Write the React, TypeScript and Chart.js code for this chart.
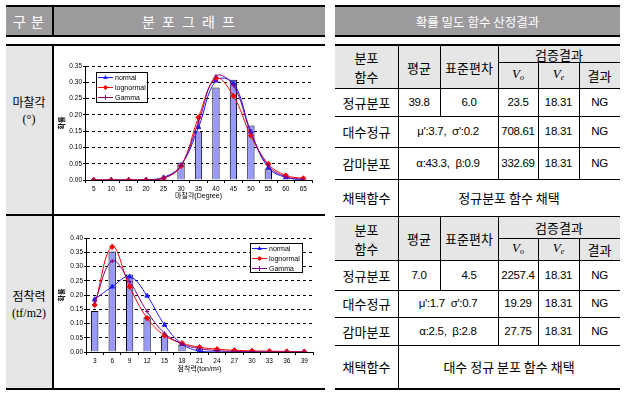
import React, { useEffect, useRef } from "react";
import { Chart, registerables } from "chart.js";
Chart.register(...registerables);

// ---------------- data ----------------
const frictionLabels = ["5", "10", "15", "20", "25", "30", "35", "40", "45", "50", "55", "60", "65"];
const frictionObserved = [0, 0, 0, 0.002, 0.004, 0.054, 0.149, 0.284, 0.308, 0.167, 0.033, 0.004, 0];
const frictionNormal = [0, 0, 0, 0.001, 0.008, 0.045, 0.162, 0.305, 0.297, 0.148, 0.038, 0.008, 0.001];
const frictionLognormal = [0, 0, 0, 0, 0.005, 0.043, 0.192, 0.312, 0.258, 0.136, 0.049, 0.014, 0.005];
const frictionGamma = [0, 0, 0, 0, 0.006, 0.045, 0.178, 0.319, 0.29, 0.145, 0.044, 0.01, 0.002];

const cohesionLabels = ["3", "6", "9", "12", "15", "18", "21", "24", "27", "30", "33", "36", "39"];
const cohesionObserved = [0.144, 0.353, 0.272, 0.122, 0.057, 0.026, 0.012, 0.008, 0.006, 0.004, 0.003, 0.002, 0];
const cohesionNormal = [0.185, 0.229, 0.264, 0.197, 0.095, 0.028, 0.003, 0, 0, 0, 0, 0, 0];
const cohesionLognormal = [0.165, 0.369, 0.229, 0.119, 0.058, 0.031, 0.017, 0.01, 0.006, 0.004, 0.003, 0.002, 0.001];
const cohesionGamma = [0.176, 0.319, 0.247, 0.142, 0.066, 0.028, 0.012, 0.005, 0.002, 0.001, 0, 0, 0];

const seriesNames = ["normal", "lognormal", "Gamma"];

const frictionFit = [
  ["정규분포", "39.8", "6.0", "23.5", "18.31", "NG"],
  ["대수정규", "μ':3.7,  σ':0.2", "", "708.61", "18.31", "NG"],
  ["감마분포", "α:43.3,  β:0.9", "", "332.69", "18.31", "NG"],
];
const frictionAdopted = "정규분포 함수 채택";
const cohesionFit = [
  ["정규분포", "7.0", "4.5", "2257.4", "18.31", "NG"],
  ["대수정규", "μ':1.7  σ':0.7", "", "19.29", "18.31", "NG"],
  ["감마분포", "α:2.5,  β:2.8", "", "27.75", "18.31", "NG"],
];
const cohesionAdopted = "대수 정규 분포 함수 채택";

// ---------------- styles ----------------
const KR = "'Noto Sans CJK KR', sans-serif";
const NUM = "'Liberation Sans', 'Noto Sans CJK KR', sans-serif";
const SERIF = "'Liberation Serif', 'Noto Sans CJK KR', serif";
const CHART_FONT = "'Liberation Sans', 'Noto Sans CJK KR', sans-serif";
const HEAD_GRAY = "#9c9a9c";
const LIGHT = "#e6e6e6";

const COLORS = ["#1a1aff", "#ff0000", "#800080"];
const STYLES = ["triangle", "rectRot", "cross"];

function drawMarker(ctx: CanvasRenderingContext2D, style: string, x: number, y: number, r: number, color: string) {
  ctx.save();
  ctx.fillStyle = color;
  ctx.strokeStyle = color;
  ctx.lineWidth = 1;
  ctx.beginPath();
  if (style === "triangle") {
    ctx.moveTo(x, y - r);
    ctx.lineTo(x + r * 0.9, y + r * 0.6);
    ctx.lineTo(x - r * 0.9, y + r * 0.6);
    ctx.closePath();
    ctx.fill();
  } else if (style === "rectRot") {
    ctx.moveTo(x, y - r);
    ctx.lineTo(x + r, y);
    ctx.lineTo(x, y + r);
    ctx.lineTo(x - r, y);
    ctx.closePath();
    ctx.fill();
  } else {
    ctx.moveTo(x, y - r);
    ctx.lineTo(x, y + r);
    ctx.stroke();
  }
  ctx.restore();
}

function makeLegendPlugin(anchor: "left" | "right", dx: number, dy: number, w: number, h: number) {
  return {
    id: "boxLegend",
    afterDatasetsDraw(chart: any) {
      const { ctx, chartArea } = chart;
      const x = anchor === "left" ? chartArea.left + dx : chartArea.right - dx - w;
      const y = chartArea.top + dy;
      ctx.save();
      ctx.fillStyle = "#fff";
      ctx.fillRect(x, y, w, h);
      ctx.strokeStyle = "#000";
      ctx.lineWidth = 1;
      ctx.strokeRect(Math.round(x) + 0.5, Math.round(y) + 0.5, w - 1, h - 1);
      seriesNames.forEach((name, i) => {
        const cy = y + 5.5 + i * 10;
        ctx.strokeStyle = COLORS[i];
        ctx.lineWidth = 1;
        ctx.beginPath();
        ctx.moveTo(x + 2, cy);
        ctx.lineTo(x + 17, cy);
        ctx.stroke();
        drawMarker(ctx, STYLES[i], x + 9.5, cy, 2.5, COLORS[i]);
        ctx.fillStyle = "#000";
        ctx.font = "7px " + CHART_FONT;
        ctx.textBaseline = "middle";
        ctx.textAlign = "left";
        ctx.fillText(name, x + 19, cy + 0.5);
      });
      ctx.restore();
    },
  };
}

type ChartSpec = {
  labels: string[];
  observed: number[];
  normal: number[];
  lognormal: number[];
  gamma: number[];
  yMax: number;
  xTitle: string;
  pad: { left: number; top: number; right: number; bottom: number };
  yWidth: number;
  xHeight: number;
  legend: any;
};

function buildConfig(s: ChartSpec): any {
  const lineSet = (label: string, data: number[], i: number, order: number) => ({
    type: "line",
    label,
    data,
    borderColor: COLORS[i],
    backgroundColor: COLORS[i],
    borderWidth: 1,
    pointStyle: STYLES[i],
    pointRadius: i === 2 ? 2 : 2.6,
    pointBorderWidth: 1,
    tension: 0.4,
    fill: false,
    order,
  });
  return {
    type: "bar",
    data: {
      labels: s.labels,
      datasets: [
        {
          type: "bar",
          label: "observed",
          data: s.observed,
          backgroundColor: "#9999ff",
          borderColor: "#000",
          borderWidth: 1,
          barPercentage: 0.42,
          categoryPercentage: 1,
          order: 10,
        },
        lineSet(seriesNames[0], s.normal, 0, 3),
        lineSet(seriesNames[1], s.lognormal, 1, 2),
        lineSet(seriesNames[2], s.gamma, 2, 1),
      ],
    },
    options: {
      animation: false,
      responsive: false,
      devicePixelRatio: 1,
      layout: { padding: s.pad },
      plugins: { legend: { display: false }, tooltip: { enabled: false } },
      scales: {
        x: {
          offset: true,
          grid: { offset: true, drawOnChartArea: false, color: "#000", tickLength: 3, lineWidth: 1 },
          border: { color: "#000", width: 1 },
          ticks: { color: "#000", font: { size: 6.5, family: CHART_FONT }, padding: 2, maxRotation: 0, autoSkip: false },
          title: { display: true, text: s.xTitle, color: "#000", font: { size: 7, family: CHART_FONT }, padding: 0 },
          afterFit: (sc: any) => {
            sc.height = s.xHeight;
          },
        },
        y: {
          min: 0,
          max: s.yMax,
          grid: { color: "#000", lineWidth: 1, tickLength: 2, drawTicks: true },
          border: { display: true, color: "#000", width: 1, dash: [3, 3] },
          ticks: {
            stepSize: 0.05,
            color: "#000",
            font: { size: 6.5, family: CHART_FONT },
            padding: 1,
            callback: (v: any) => Number(v).toFixed(2),
          },
          title: { display: true, text: "확률", color: "#000", font: { size: 7, weight: "bold", family: CHART_FONT }, padding: 0 },
          afterFit: (sc: any) => {
            sc.width = s.yWidth;
          },
        },
      },
    },
    plugins: [s.legend],
  };
}

function DistChart({ left, top, width, height, spec }: { left: number; top: number; width: number; height: number; spec: ChartSpec }) {
  const ref = useRef<HTMLCanvasElement>(null);
  useEffect(() => {
    const chart = new Chart(ref.current as HTMLCanvasElement, buildConfig(spec));
    return () => chart.destroy();
  }, []);
  return (
    <div style={{ position: "absolute", left, top, width, height }}>
      <canvas ref={ref} width={width} height={height} style={{ width, height, display: "block" }} />
    </div>
  );
}

// ---------------- layout helpers ----------------
const Box = ({ x1, y1, x2, y2, bg }: any) => (
  <div style={{ position: "absolute", left: x1, top: y1, width: x2 - x1, height: y2 - y1, background: bg }} />
);
const H = ({ x1, x2, y, w = 1 }: any) => (
  <div style={{ position: "absolute", left: x1, top: y, width: x2 - x1, height: w, background: "#000" }} />
);
const V = ({ x, y1, y2, w = 1 }: any) => (
  <div style={{ position: "absolute", left: x, top: y1, width: w, height: y2 - y1, background: "#000" }} />
);
const T = ({ x1, x2, y1, y2, children, style }: any) => (
  <div
    style={{
      position: "absolute",
      left: x1,
      top: y1,
      width: x2 - x1,
      height: y2 - y1,
      display: "flex",
      alignItems: "center",
      justifyContent: "center",
      textAlign: "center",
      whiteSpace: "pre",
      fontFamily: KR,
      fontSize: 13,
      lineHeight: "19px",
      color: "#000",
      ...style,
    }}
  >
    {children}
  </div>
);

const COLS = [335, 398, 440, 498, 538, 579, 620];

function FitTable({ ys, rows, adopted, bottomW }: { ys: number[]; rows: string[][]; adopted: string; bottomW: number }) {
  const [t, s, h, r1, r2, r3, b] = ys;
  const [c0, c1, c2, c3, c4, c5, c6] = COLS;
  const num = { fontFamily: NUM, fontSize: 11.5, letterSpacing: "-0.3px" };
  const vStyle = { fontFamily: SERIF, fontStyle: "italic", fontSize: 13 };
  return (
    <>
      <Box x1={c0} x2={c6} y1={t} y2={h} bg={LIGHT} />
      <H x1={c3} x2={c6} y={s} />
      <H x1={c0} x2={c6} y={h} />
      <H x1={c0} x2={c6} y={r1} />
      <H x1={c0} x2={c6} y={r2} />
      <H x1={c0} x2={c6} y={r3} />
      <H x1={c0} x2={c6} y={b} w={bottomW} />
      <V x={c1} y1={t} y2={b} />
      <V x={c2} y1={t} y2={r1} />
      <V x={c3} y1={t} y2={r3} />
      <V x={c4} y1={s} y2={r3} />
      <V x={c5} y1={s} y2={r3} />
      <T x1={c0} x2={c1} y1={t} y2={h}>{"분포\n함수"}</T>
      <T x1={c1} x2={c2} y1={t} y2={h}>평균</T>
      <T x1={c2} x2={c3} y1={t} y2={h}>표준편차</T>
      <T x1={c3} x2={c6} y1={t} y2={s}>검증결과</T>
      <T x1={c3} x2={c4} y1={s} y2={h} style={vStyle}>
        <span>V<sub style={{ fontSize: 8, verticalAlign: "-2px" }}>o</sub></span>
      </T>
      <T x1={c4} x2={c5} y1={s} y2={h} style={vStyle}>
        <span>V<sub style={{ fontSize: 8, verticalAlign: "-2px" }}>e</sub></span>
      </T>
      <T x1={c5} x2={c6} y1={s} y2={h}>결과</T>
      {rows.map((r, i) => {
        const y1 = [h, r1, r2][i];
        const y2 = [r1, r2, r3][i];
        return (
          <React.Fragment key={i}>
            <T x1={c0} x2={c1} y1={y1} y2={y2}>{r[0]}</T>
            {r[2] !== "" ? (
              <>
                <T x1={c1} x2={c2} y1={y1} y2={y2} style={num}>{r[1]}</T>
                <T x1={c2} x2={c3} y1={y1} y2={y2} style={num}>{r[2]}</T>
              </>
            ) : (
              <T x1={c1} x2={c3} y1={y1} y2={y2} style={num}>{r[1]}</T>
            )}
            <T x1={c3} x2={c4} y1={y1} y2={y2} style={num}>{r[3]}</T>
            <T x1={c4} x2={c5} y1={y1} y2={y2} style={num}>{r[4]}</T>
            <T x1={c5} x2={c6} y1={y1} y2={y2} style={num}>{r[5]}</T>
          </React.Fragment>
        );
      })}
      <T x1={c0} x2={c1} y1={r3} y2={b}>채택함수</T>
      <T x1={c1} x2={c6} y1={r3} y2={b}>{adopted}</T>
    </>
  );
}

const frictionSpec: ChartSpec = {
  labels: frictionLabels,
  observed: frictionObserved,
  normal: frictionNormal,
  lognormal: frictionLognormal,
  gamma: frictionGamma,
  yMax: 0.35,
  xTitle: "마찰각(Degree)",
  pad: { left: 4, top: 20, right: 12, bottom: 14 },
  yWidth: 27,
  xHeight: 20,
  legend: makeLegendPlugin("left", 11, 6, 52, 31),
};

const cohesionSpec: ChartSpec = {
  labels: cohesionLabels,
  observed: cohesionObserved,
  normal: cohesionNormal,
  lognormal: cohesionLognormal,
  gamma: cohesionGamma,
  yMax: 0.4,
  xTitle: "점착력(ton/m²)",
  pad: { left: 4, top: 21, right: 11, bottom: 14 },
  yWidth: 28,
  xHeight: 21,
  legend: makeLegendPlugin("right", 10, 5, 53, 30),
};

export default function App() {
  return (
    <div style={{ position: "absolute", left: 0, top: 0, width: 626, height: 396, background: "#fff", overflow: "hidden" }}>
      {/* left header */}
      <Box x1={6} x2={325} y1={7} y2={35} bg={HEAD_GRAY} />
      <H x1={6} x2={325} y={5} w={2} />
      <H x1={6} x2={325} y={35} w={2} />
      <V x={52} y1={5} y2={37} w={2} />
      <T x1={6} x2={52} y1={7} y2={35} style={{ color: "#fff", fontSize: 14, letterSpacing: "1px" }}>구 분</T>
      <T x1={54} x2={325} y1={7} y2={35} style={{ color: "#fff", fontSize: 14, letterSpacing: "2px" }}>분 포 그 래 프</T>

      {/* left body */}
      <Box x1={6} x2={52} y1={46} y2={388} bg={LIGHT} />
      <H x1={6} x2={325} y={44} w={2} />
      <H x1={6} x2={325} y={214} w={2} />
      <H x1={6} x2={325} y={388} w={2} />
      <V x={52} y1={44} y2={390} w={2} />
      <T x1={6} x2={52} y1={95} y2={127} style={{ fontFamily: SERIF, fontSize: 12, lineHeight: "16px" }}>{"마찰각\n(°)"}</T>
      <T x1={6} x2={52} y1={289} y2={321} style={{ fontFamily: SERIF, fontSize: 12, lineHeight: "16px" }}>{"점착력\n(tf/m2)"}</T>

      <DistChart left={54} top={46} width={270} height={168} spec={frictionSpec} />
      <DistChart left={54} top={217} width={270} height={170} spec={cohesionSpec} />

      {/* right header */}
      <Box x1={335} x2={620} y1={7} y2={35} bg={HEAD_GRAY} />
      <H x1={335} x2={620} y={5} w={2} />
      <H x1={335} x2={620} y={35} w={2} />
      <T x1={335} x2={620} y1={7} y2={35} style={{ color: "#fff", fontSize: 12.5 }}>확률 밀도 함수 산정결과</T>

      <H x1={335} x2={620} y={44} w={2} />
      <FitTable ys={[46, 62, 88, 116, 147, 179, 216]} rows={frictionFit} adopted={frictionAdopted} bottomW={1} />
      <FitTable ys={[217, 238, 260, 290, 317, 345, 388]} rows={cohesionFit} adopted={cohesionAdopted} bottomW={2} />
    </div>
  );
}
